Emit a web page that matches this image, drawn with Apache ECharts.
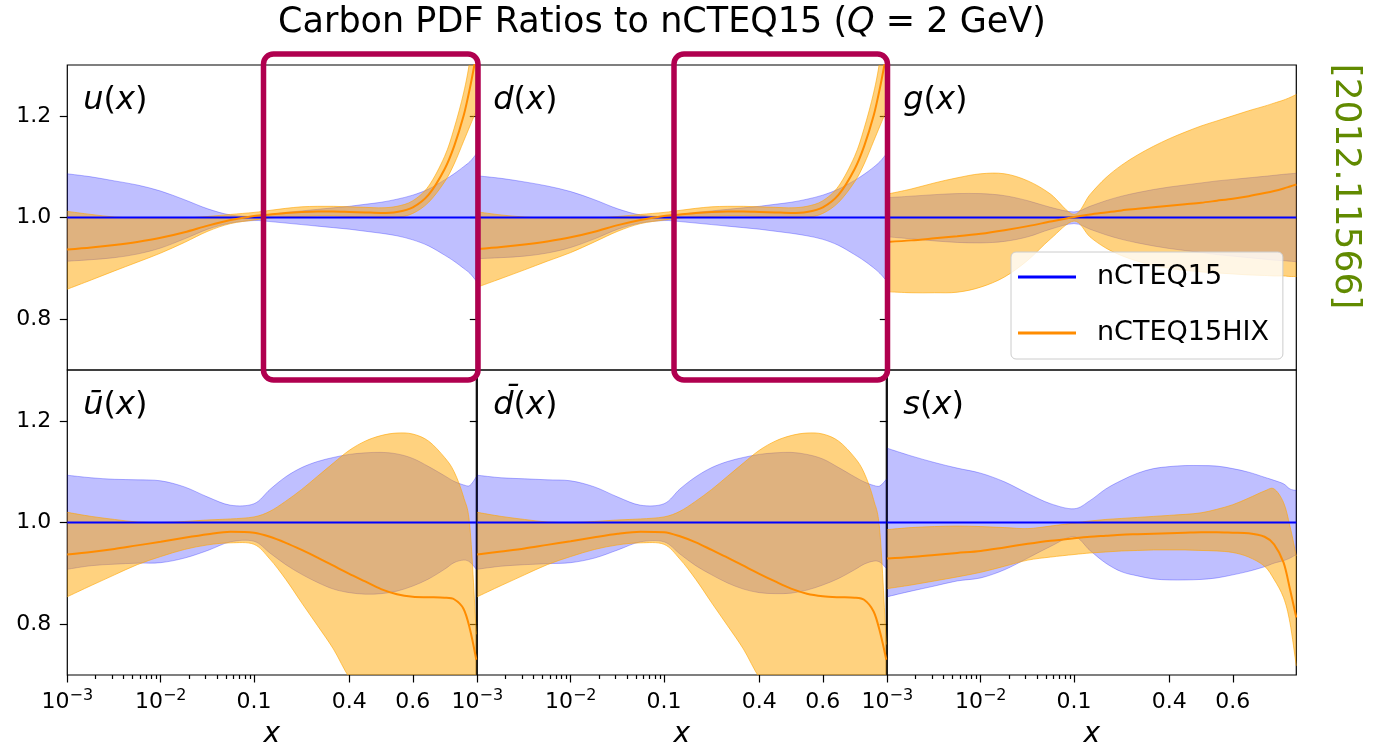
<!DOCTYPE html>
<html>
<head>
<meta charset="utf-8">
<script src="https://cdn.jsdelivr.net/npm/echarts@6/dist/echarts.min.js"></script>
<style>html,body{margin:0;padding:0;background:#fff}#c{width:1373px;height:750px}</style>
</head>
<body>
<div id="c"></div>
<script>
// ---------------- DATA ----------------
const X = [0.001, 0.0018, 0.0032, 0.0056, 0.01, 0.018, 0.032, 0.056, 0.1, 0.15, 0.2, 0.25, 0.3, 0.35, 0.4, 0.45, 0.5, 0.55, 0.6, 0.65, 0.7, 0.73, 0.76, 0.78, 0.8];
const xTickValues = [0.001, 0.01, 0.1, 0.4, 0.6];
const xTickLabels = [['10', '\u22123'], ['10', '\u22122'], ['0.1', ''], ['0.4', ''], ['0.6', '']];
const xMinorTicks = [0.002, 0.003, 0.004, 0.005, 0.006, 0.007, 0.008, 0.009, 0.02, 0.03, 0.04, 0.05, 0.06, 0.07, 0.08, 0.09];
const yTickValues = [0.8, 1.0, 1.2];
const panelLabels = ['u', 'd', 'g', '\u016b', 'd\u0304', 's'];
const seriesNames = ['nCTEQ15', 'nCTEQ15HIX'];

const ncCentral = [1, 1, 1, 1, 1, 1, 1, 1, 1, 1, 1, 1, 1, 1, 1, 1, 1, 1, 1, 1, 1, 1, 1, 1, 1];

// u(x)
const uNcLo  = [0.914, 0.917, 0.921, 0.928, 0.940, 0.958, 0.977, 0.989, 0.994, 0.992, 0.989, 0.986, 0.983, 0.980, 0.977, 0.973, 0.969, 0.964, 0.956, 0.944, 0.926, 0.914, 0.900, 0.890, 0.875];
const uNcHi  = [1.086, 1.080, 1.072, 1.064, 1.052, 1.035, 1.017, 1.005, 1.002, 1.006, 1.010, 1.013, 1.016, 1.019, 1.022, 1.026, 1.030, 1.036, 1.044, 1.056, 1.074, 1.086, 1.100, 1.110, 1.125];
const uHixMid = [0.937, 0.941, 0.946, 0.952, 0.960, 0.971, 0.984, 0.995, 1.003, 1.006, 1.009, 1.011, 1.012, 1.012, 1.011, 1.010, 1.009, 1.011, 1.020, 1.045, 1.095, 1.140, 1.200, 1.255, 1.320];
const uHixLo = [0.859, 0.877, 0.895, 0.912, 0.930, 0.951, 0.973, 0.988, 0.995, 0.999, 1.001, 1.002, 1.003, 1.003, 1.002, 1.000, 0.999, 1.000, 1.008, 1.030, 1.070, 1.105, 1.150, 1.180, 1.210];
const uHixHi = [1.012, 1.006, 1.001, 0.999, 0.998, 0.999, 1.002, 1.006, 1.010, 1.014, 1.018, 1.021, 1.022, 1.022, 1.021, 1.020, 1.019, 1.022, 1.033, 1.062, 1.120, 1.175, 1.245, 1.310, 1.400];

// d(x)
const dNcLo  = [0.919, 0.921, 0.924, 0.930, 0.941, 0.958, 0.977, 0.989, 0.994, 0.992, 0.989, 0.986, 0.983, 0.980, 0.977, 0.973, 0.969, 0.964, 0.957, 0.945, 0.927, 0.915, 0.901, 0.890, 0.876];
const dNcHi  = [1.082, 1.077, 1.070, 1.062, 1.051, 1.035, 1.017, 1.005, 1.002, 1.006, 1.010, 1.013, 1.016, 1.019, 1.022, 1.026, 1.030, 1.036, 1.044, 1.056, 1.073, 1.085, 1.099, 1.110, 1.125];
const dHixMid = [0.938, 0.942, 0.947, 0.953, 0.961, 0.972, 0.985, 0.995, 1.003, 1.006, 1.009, 1.011, 1.012, 1.012, 1.011, 1.010, 1.009, 1.011, 1.020, 1.045, 1.095, 1.140, 1.200, 1.255, 1.320];
const dHixLo = [0.863, 0.880, 0.897, 0.914, 0.931, 0.952, 0.973, 0.988, 0.995, 0.999, 1.001, 1.002, 1.003, 1.003, 1.002, 1.000, 0.999, 1.000, 1.008, 1.030, 1.070, 1.105, 1.150, 1.180, 1.210];
const dHixHi = [1.011, 1.005, 1.001, 0.999, 0.998, 0.999, 1.002, 1.006, 1.010, 1.014, 1.018, 1.021, 1.022, 1.022, 1.021, 1.020, 1.019, 1.022, 1.033, 1.062, 1.120, 1.175, 1.245, 1.310, 1.400];

// g(x)
const gNcLo  = [0.962, 0.958, 0.954, 0.951, 0.950, 0.953, 0.962, 0.977, 0.988, 0.977, 0.966, 0.957, 0.950, 0.944, 0.939, 0.935, 0.931, 0.927, 0.924, 0.921, 0.918, 0.916, 0.915, 0.914, 0.913];
const gNcHi  = [1.039, 1.042, 1.045, 1.047, 1.047, 1.043, 1.033, 1.020, 1.011, 1.022, 1.033, 1.042, 1.049, 1.055, 1.060, 1.064, 1.068, 1.072, 1.075, 1.078, 1.081, 1.083, 1.085, 1.086, 1.087];
const gHixMid = [0.952, 0.955, 0.959, 0.963, 0.968, 0.975, 0.983, 0.992, 1.001, 1.006, 1.010, 1.014, 1.017, 1.020, 1.023, 1.026, 1.029, 1.033, 1.037, 1.042, 1.048, 1.052, 1.057, 1.061, 1.065];
const gHixLo = [0.854, 0.852, 0.852, 0.853, 0.863, 0.883, 0.916, 0.958, 0.993, 0.962, 0.940, 0.925, 0.914, 0.906, 0.900, 0.896, 0.893, 0.891, 0.889, 0.887, 0.886, 0.885, 0.885, 0.884, 0.884];
const gHixHi = [1.046, 1.056, 1.068, 1.078, 1.086, 1.086, 1.072, 1.046, 1.006, 1.045, 1.078, 1.103, 1.123, 1.140, 1.155, 1.168, 1.180, 1.190, 1.200, 1.210, 1.219, 1.225, 1.231, 1.236, 1.242];

// ubar(x)
const ubNcLo  = [0.908, 0.915, 0.918, 0.920, 0.921, 0.930, 0.945, 0.962, 0.963, 0.940, 0.917, 0.898, 0.882, 0.869, 0.862, 0.859, 0.860, 0.865, 0.875, 0.889, 0.908, 0.921, 0.926, 0.922, 0.908];
const ubNcHi  = [1.093, 1.088, 1.085, 1.084, 1.082, 1.070, 1.050, 1.034, 1.037, 1.065, 1.090, 1.108, 1.120, 1.128, 1.134, 1.137, 1.138, 1.135, 1.126, 1.110, 1.092, 1.081, 1.074, 1.073, 1.090];
const ubHixMid = [0.937, 0.942, 0.948, 0.955, 0.962, 0.970, 0.977, 0.982, 0.980, 0.972, 0.960, 0.946, 0.931, 0.915, 0.899, 0.884, 0.869, 0.859, 0.854, 0.853, 0.852, 0.849, 0.830, 0.790, 0.730];
const ubHixLo = [0.854, 0.876, 0.897, 0.917, 0.933, 0.947, 0.956, 0.960, 0.957, 0.928, 0.888, 0.842, 0.797, 0.751, 0.695, 0.660, 0.620, 0.590, 0.560, 0.540, 0.520, 0.500, 0.480, 0.460, 0.440];
const ubHixHi = [1.020, 1.012, 1.006, 1.001, 1.000, 1.002, 1.005, 1.007, 1.011, 1.022, 1.042, 1.065, 1.091, 1.117, 1.142, 1.160, 1.171, 1.176, 1.174, 1.160, 1.128, 1.100, 1.050, 0.990, 0.780];

// dbar(x)
const dbNcLo  = [0.908, 0.914, 0.917, 0.919, 0.921, 0.930, 0.946, 0.962, 0.962, 0.938, 0.915, 0.897, 0.881, 0.869, 0.862, 0.860, 0.861, 0.867, 0.877, 0.890, 0.907, 0.918, 0.924, 0.922, 0.910];
const dbNcHi  = [1.093, 1.088, 1.086, 1.084, 1.082, 1.070, 1.050, 1.034, 1.037, 1.066, 1.090, 1.108, 1.120, 1.128, 1.134, 1.137, 1.138, 1.134, 1.125, 1.108, 1.090, 1.080, 1.073, 1.072, 1.085];
const dbHixMid = [0.937, 0.943, 0.949, 0.956, 0.963, 0.971, 0.978, 0.982, 0.981, 0.973, 0.961, 0.946, 0.931, 0.915, 0.899, 0.884, 0.870, 0.860, 0.855, 0.853, 0.852, 0.848, 0.825, 0.785, 0.730];
const dbHixLo = [0.854, 0.876, 0.897, 0.917, 0.933, 0.947, 0.956, 0.960, 0.957, 0.928, 0.888, 0.842, 0.797, 0.751, 0.695, 0.660, 0.620, 0.590, 0.560, 0.540, 0.520, 0.500, 0.480, 0.460, 0.440];
const dbHixHi = [1.020, 1.012, 1.006, 1.001, 1.000, 1.002, 1.005, 1.007, 1.011, 1.022, 1.042, 1.065, 1.091, 1.117, 1.142, 1.160, 1.171, 1.176, 1.174, 1.160, 1.128, 1.098, 1.045, 0.980, 0.760];

// s(x)
const sNcLo  = [0.854, 0.865, 0.875, 0.885, 0.891, 0.907, 0.930, 0.953, 0.972, 0.945, 0.920, 0.903, 0.895, 0.889, 0.887, 0.887, 0.888, 0.891, 0.897, 0.904, 0.913, 0.920, 0.925, 0.930, 0.937];
const sNcHi  = [1.146, 1.131, 1.118, 1.107, 1.097, 1.080, 1.057, 1.037, 1.027, 1.043, 1.066, 1.083, 1.097, 1.106, 1.110, 1.112, 1.112, 1.111, 1.106, 1.099, 1.089, 1.083, 1.076, 1.066, 1.063];
const sHixMid = [0.929, 0.932, 0.936, 0.940, 0.944, 0.951, 0.958, 0.964, 0.969, 0.972, 0.974, 0.976, 0.977, 0.978, 0.979, 0.980, 0.981, 0.981, 0.980, 0.979, 0.972, 0.957, 0.921, 0.869, 0.813];
const sHixLo = [0.870, 0.877, 0.885, 0.893, 0.902, 0.914, 0.926, 0.932, 0.937, 0.940, 0.942, 0.944, 0.945, 0.946, 0.946, 0.946, 0.945, 0.944, 0.941, 0.932, 0.914, 0.888, 0.852, 0.803, 0.718];
const sHixHi = [0.986, 0.990, 0.992, 0.993, 0.992, 0.990, 0.988, 0.993, 0.999, 1.003, 1.006, 1.008, 1.010, 1.012, 1.014, 1.016, 1.019, 1.026, 1.035, 1.048, 1.062, 1.066, 1.039, 0.993, 0.934];

// ---------------- AXIS TRANSFORM (log below 0.1, linear above) ----------------
const LIN_SCALE = 3.4;
function T(x) { return x <= 0.1 ? Math.log10(x) : -1 + (x - 0.1) * LIN_SCALE; }
const X_MIN_T = T(0.001), X_MAX_T = T(0.8);

// ---------------- LAYOUT / STYLE ----------------
const FONT = 'DejaVu Sans';
const gridLefts = [67.3, 477.3, 887.3], gridW = 409;
const gridTops = [65, 370], gridH = 305;
const BLUE = '#0000ff', ORANGE = '#ff8c00';
const BLUE_FILL = 'rgba(0,0,255,0.25)', BLUE_EDGE = 'rgba(0,0,255,0.28)';
const OR_FILL = 'rgba(255,165,0,0.5)', OR_EDGE = 'rgba(255,165,0,0.6)';
const tickStyle = { color: '#000', width: 1.2 };

const panels = [
  { ncLo: uNcLo, ncHi: uNcHi, mid: uHixMid, lo: uHixLo, hi: uHixHi },
  { ncLo: dNcLo, ncHi: dNcHi, mid: dHixMid, lo: dHixLo, hi: dHixHi },
  { ncLo: gNcLo, ncHi: gNcHi, mid: gHixMid, lo: gHixLo, hi: gHixHi },
  { ncLo: ubNcLo, ncHi: ubNcHi, mid: ubHixMid, lo: ubHixLo, hi: ubHixHi },
  { ncLo: dbNcLo, ncHi: dbNcHi, mid: dbHixMid, lo: dbHixLo, hi: dbHixHi },
  { ncLo: sNcLo, ncHi: sNcHi, mid: sHixMid, lo: sHixLo, hi: sHixHi }
];

const pairs = ys => X.map((x, k) => [T(x), ys[k]]);

// Catmull-Rom -> cubic bezier path through pixel points
function crSegs(pts, start) {
  let d = (start ? 'M' : 'L') + pts[0][0] + ',' + pts[0][1];
  for (let i = 0; i < pts.length - 1; i++) {
    const p0 = pts[i - 1] || pts[i], p1 = pts[i], p2 = pts[i + 1], p3 = pts[i + 2] || pts[i + 1];
    const c1x = p1[0] + (p2[0] - p0[0]) / 6, c1y = p1[1] + (p2[1] - p0[1]) / 6;
    const c2x = p2[0] - (p3[0] - p1[0]) / 6, c2y = p2[1] - (p3[1] - p1[1]) / 6;
    d += 'C' + c1x + ',' + c1y + ',' + c2x + ',' + c2y + ',' + p2[0] + ',' + p2[1];
  }
  return d;
}

function bandSeries(xi, yi, lo, hi, fill, edge, z) {
  const data = X.map((x, k) => [T(x), lo[k], hi[k]]);
  return {
    type: 'custom', xAxisIndex: xi, yAxisIndex: yi, clip: true, silent: true, z: z,
    data: data, encode: { x: 0, y: [1, 2] },
    renderItem: function (params, api) {
      if (params.dataIndex !== 0) return null;
      const up = data.map(d => api.coord([d[0], d[2]]));
      const dn = data.map(d => api.coord([d[0], d[1]]));
      const dnRev = dn.slice().reverse();
      return {
        type: 'group',
        children: [
          { type: 'path', shape: { pathData: crSegs(up, true) + crSegs(dnRev, false) + 'Z' },
            style: { fill: fill, stroke: null } },
          { type: 'path', shape: { pathData: crSegs(up, true) }, style: { fill: null, stroke: edge, lineWidth: 1 } },
          { type: 'path', shape: { pathData: crSegs(dn, true) }, style: { fill: null, stroke: edge, lineWidth: 1 } }
        ]
      };
    }
  };
}

const xTickT = xTickValues.map(T);
function xFmt(v) {
  let j = 0, best = Infinity;
  xTickT.forEach((t, k) => { const d = Math.abs(t - v); if (d < best) { best = d; j = k; } });
  const [b, s] = xTickLabels[j];
  return s ? '{b|' + b + '}{s|' + s + '}' : '{b|' + b + '}';
}
const xRich = {
  b: { fontSize: 22, fontFamily: FONT, color: '#000', lineHeight: 28 },
  s: { fontSize: 16, fontFamily: FONT, color: '#000', lineHeight: 16, verticalAlign: 'top' }
};

const grids = [], xAxes = [], yAxes = [], series = [], graphics = [];

panels.forEach((p, i) => {
  const row = Math.floor(i / 3), col = i % 3;
  const bottom = row === 1;
  grids.push({ left: gridLefts[col], top: gridTops[row], width: gridW, height: gridH,
    show: true, borderColor: '#000', borderWidth: 1.2, backgroundColor: 'transparent' });
  const xi = xAxes.length;
  xAxes.push({
    gridIndex: i, type: 'value', min: X_MIN_T, max: X_MAX_T, position: 'bottom',
    axisLine: { show: false, onZero: false }, splitLine: { show: false },
    axisTick: { show: bottom, customValues: xTickT, length: 7.5, lineStyle: tickStyle },
    axisLabel: { show: bottom, customValues: xTickT, formatter: xFmt, margin: 13, rich: xRich },
    name: bottom ? 'x' : '', nameLocation: 'middle', nameGap: 46,
    nameTextStyle: { fontSize: 28, fontStyle: 'italic', fontFamily: FONT, color: '#000' }
  });
  if (bottom) {
    xAxes.push({
      gridIndex: i, type: 'value', min: X_MIN_T, max: X_MAX_T, position: 'bottom',
      axisLine: { show: false, onZero: false }, splitLine: { show: false },
      axisTick: { show: true, customValues: xMinorTicks.map(T), length: 4, lineStyle: tickStyle },
      axisLabel: { show: false }
    });
  }
  const yi = yAxes.length;
  yAxes.push({
    gridIndex: i, type: 'value', min: 0.7, max: 1.3, position: 'left',
    axisLine: { show: false, onZero: false }, splitLine: { show: false },
    axisTick: { show: true, customValues: yTickValues, length: 7.5, lineStyle: tickStyle },
    axisLabel: { show: col === 0, customValues: yTickValues, formatter: v => v.toFixed(1),
      fontSize: 22, fontFamily: FONT, color: '#000', margin: 16 }
  });
  series.push(bandSeries(xi, yi, p.ncLo, p.ncHi, BLUE_FILL, BLUE_EDGE, 2));
  series.push(bandSeries(xi, yi, p.lo, p.hi, OR_FILL, OR_EDGE, 3));
  const common = { type: 'line', xAxisIndex: xi, yAxisIndex: yi, symbol: 'none', smooth: 0.3, silent: true, animation: false };
  series.push(Object.assign({}, common, { name: seriesNames[0], data: pairs(ncCentral), color: BLUE, itemStyle: { color: BLUE }, lineStyle: { color: BLUE, width: 2 }, z: 4 }));
  series.push(Object.assign({}, common, { name: seriesNames[1], data: pairs(p.mid), color: ORANGE, itemStyle: { color: ORANGE }, lineStyle: { color: ORANGE, width: 2 }, z: 5 }));

  graphics.push({
    type: 'text', z: 50, x: gridLefts[col] + 16, y: gridTops[row] + 36,
    style: {
      text: '{i|' + panelLabels[i] + '}{n|(}{i|x}{n|)}',
      rich: {
        i: { fontSize: 32, fontStyle: 'italic', fontFamily: FONT, fill: '#000' },
        n: { fontSize: 32, fontFamily: FONT, fill: '#000' }
      },
      fill: '#000', align: 'left', verticalAlign: 'middle', textAlign: 'left', textVerticalAlign: 'middle'
    }
  });
});

// title
graphics.push({
  type: 'text', z: 50, x: 662, y: 23,
  style: {
    text: '{n|Carbon PDF Ratios to nCTEQ15 (}{i|Q}{n| = 2 GeV)}',
    rich: {
      n: { fontSize: 35, fontFamily: FONT, fill: '#000' },
      i: { fontSize: 35, fontFamily: FONT, fontStyle: 'italic', fill: '#000' }
    },
    fill: '#000', align: 'center', verticalAlign: 'middle', textAlign: 'center', textVerticalAlign: 'middle'
  }
});
// highlight boxes
[[263.5, 54, 214.5, 326], [674, 54, 213.5, 326]].forEach(b => {
  graphics.push({ type: 'rect', z: 60, shape: { x: b[0], y: b[1], width: b[2], height: b[3], r: 10 },
    style: { fill: null, stroke: '#b0004f', lineWidth: 5.5 } });
});
// arXiv tag
graphics.push({
  type: 'text', z: 50, x: 1345, y: 186.5, rotation: -Math.PI / 2,
  style: { text: '[2012.11566]', font: '36px "DejaVu Sans"', fill: '#618a00',
    align: 'center', verticalAlign: 'middle', textAlign: 'center', textVerticalAlign: 'middle' }
});

const chart = echarts.init(document.getElementById('c'), null, { renderer: 'canvas' });
chart.setOption({
  animation: false,
  backgroundColor: '#ffffff',
  grid: grids,
  xAxis: xAxes,
  yAxis: yAxes,
  series: series,
  legend: {
    data: seriesNames, orient: 'vertical', left: 1011, top: 252,
    padding: [10, 14, 11, 7], itemGap: 26, itemWidth: 58, itemHeight: 3, icon: 'rect',
    backgroundColor: 'rgba(255,255,255,0.8)', borderColor: '#cccccc', borderWidth: 1, borderRadius: 5,
    textStyle: { fontSize: 27, fontFamily: FONT, color: '#000', lineHeight: 30, padding: [0, 0, 0, 16] },
    selectedMode: false, z: 20
  },
  graphic: { elements: graphics }
});
</script>
</body>
</html>
